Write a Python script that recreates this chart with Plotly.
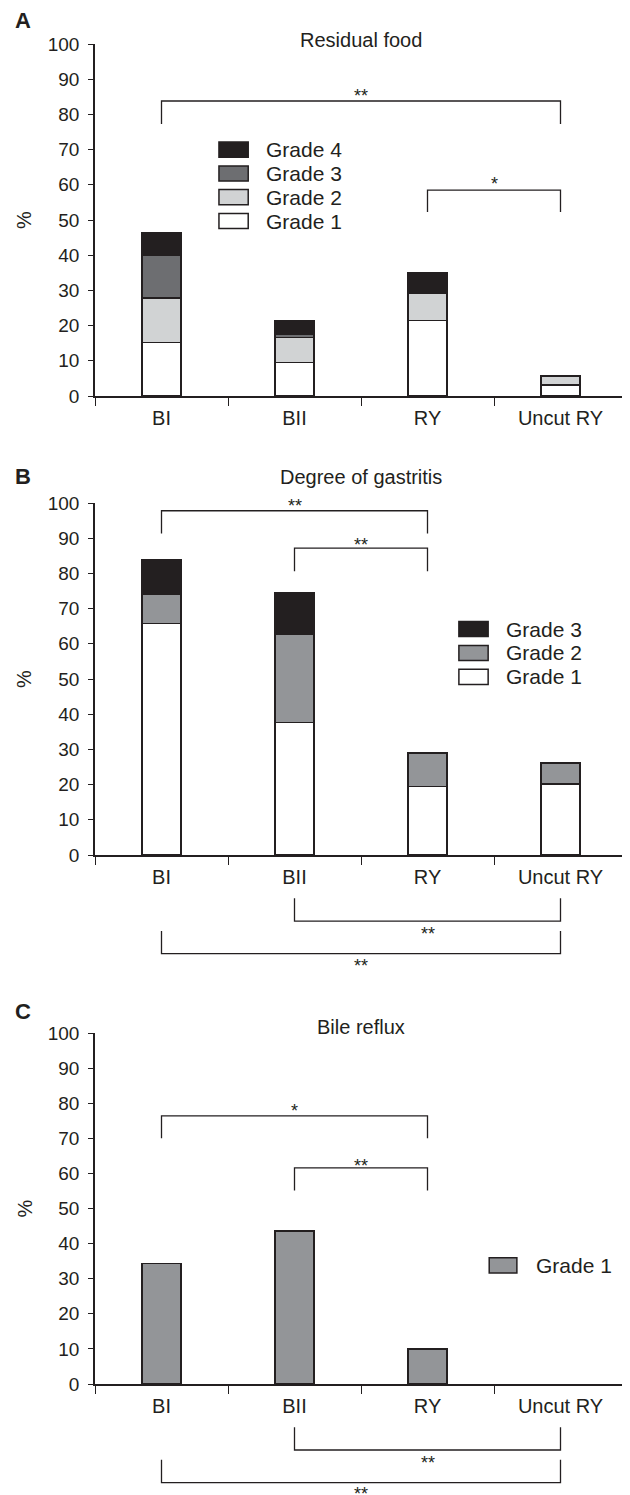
import plotly.graph_objects as go
from plotly.subplots import make_subplots

categories = ["BI", "BII", "RY", "Uncut RY"]

# Panel A: Residual food (% per grade)
food_grade1 = [15.2, 9.5, 21.4, 3.1]
food_grade2 = [12.6, 7.1, 7.8, 2.6]
food_grade3 = [12.1, 0.9, None, None]
food_grade4 = [6.5, 4.0, 5.7, None]

# Panel B: Degree of gastritis
gast_grade1 = [65.7, 37.7, 19.5, 20.2]
gast_grade2 = [8.5, 25.1, 9.5, 6.0]
gast_grade3 = [9.8, 11.8, None, None]

# Panel C: Bile reflux
bile_grade1 = [34.4, 43.6, 10.0, None]

y_ticks = list(range(0, 101, 10))

panel_titles = ["Residual food", "Degree of gastritis", "Bile reflux"]
panel_letters = ["A", "B", "C"]

# significance brackets: (left cat index, right cat index, bar level, tip level, label, label level)
brackets_A = [(0, 3, 83.8, 77.3, "**", 86.4), (2, 3, 58.5, 52.3, "*", 61.4)]
brackets_B = [(0, 2, 97.8, 91.3, "**", 100.2), (1, 2, 87.2, 80.6, "**", 89.3),
              (1, 3, -18.8, -12.3, "**", -21.3), (0, 3, -28.0, -21.6, "**", -30.5)]
brackets_C = [(0, 2, 76.4, 70.0, "*", 79.0), (1, 2, 61.6, 55.1, "**", 63.3),
              (1, 3, -18.8, -12.3, "**", -21.3), (0, 3, -28.1, -21.6, "**", -30.2)]

INK = "#231f20"
FONT = "Liberation Sans, Arial, sans-serif"

# the page body has an 8px margin; the figure is drawn from (8, 8)
OFF = 8
W, H = 630 - OFF, 1495 - OFF
ML = 95 - OFF
MR = W - (627 - OFF)
# plot area pixel extents (top, bottom) for each panel, page coordinates
panel_px = [(44, 396), (503, 855), (1033, 1384)]
title_px = [40, 477, 1027]
letter_px = [21, 477, 1011]

fig = make_subplots(rows=3, cols=1)

series_A = [("Grade 1", food_grade1, "#ffffff"), ("Grade 2", food_grade2, "#d1d3d4"),
            ("Grade 3", food_grade3, "#6d6e71"), ("Grade 4", food_grade4, INK)]
series_B = [("Grade 1", gast_grade1, "#ffffff"), ("Grade 2", gast_grade2, "#939598"),
            ("Grade 3", gast_grade3, INK)]
series_C = [("Grade 1", bile_grade1, "#939598")]

panels = [series_A, series_B, series_C]
brackets = [brackets_A, brackets_B, brackets_C]

# custom legend placement (domain fractions): box x0, x1, text x, row centers
legend_pos = [
    (0.233, 0.288, 0.318, [0.497, 0.565, 0.632, 0.700]),
    (0.684, 0.739, 0.769, [0.506, 0.574, 0.642]),
    (0.741, 0.793, 0.825, [0.338]),
]
BOX_H = 0.0215

shapes = []
annotations = []
PW = W - ML - MR

for p, series in enumerate(panels):
    row = p + 1
    for name, vals, col in series:
        fig.add_trace(go.Bar(x=categories, y=vals, name=name, width=0.29,
                             marker=dict(color=col, line=dict(color=INK, width=1.5)),
                             showlegend=False), row=row, col=1)
    xa = "x" if p == 0 else f"x{p+1}"
    ya = "y" if p == 0 else f"y{p+1}"
    # legend
    bx0, bx1, tx, rows_y = legend_pos[p]
    for (name, vals, col), yc in zip(series, rows_y):
        shapes.append(dict(type="rect", xref=f"{xa} domain", yref=f"{ya} domain",
                           x0=bx0, x1=bx1, y0=yc - BOX_H, y1=yc + BOX_H,
                           fillcolor=col, line=dict(color=INK, width=1.5)))
        annotations.append(dict(xref=f"{xa} domain", yref=f"{ya} domain", x=tx, y=yc,
                                text=name, showarrow=False, xanchor="left", yanchor="middle",
                                font=dict(size=21, color=INK, family=FONT)))
    # brackets
    for li, ri, lvl, tip, lab, laby in brackets[p]:
        xl = (li + 0.5) / len(categories)
        xr = (ri + 0.5) / len(categories)
        path = (f"M{xl},{tip/100} L{xl},{lvl/100} L{xr},{lvl/100} L{xr},{tip/100}")
        shapes.append(dict(type="path", xref=f"{xa} domain", yref=f"{ya} domain",
                           path=path, line=dict(color=INK, width=1.3)))
        annotations.append(dict(xref=f"{xa} domain", yref=f"{ya} domain",
                                x=(xl + xr) / 2, y=laby / 100, text=lab, showarrow=False,
                                xanchor="center", yanchor="middle", yshift=-4,
                                font=dict(size=18, color=INK, family=FONT)))
    # title
    annotations.append(dict(xref=f"{xa} domain", yref="paper", x=0.5,
                            y=1 - (title_px[p] - OFF) / H, text=panel_titles[p],
                            showarrow=False, xanchor="center", yanchor="middle",
                            font=dict(size=20, color=INK, family=FONT)))
    # panel letter
    annotations.append(dict(xref="paper", yref="paper", x=(23 - OFF - ML) / PW,
                            y=1 - (letter_px[p] - OFF) / H, text=f"<b>{panel_letters[p]}</b>",
                            showarrow=False, xanchor="center", yanchor="middle",
                            font=dict(size=22, color=INK, family=FONT)))
    # y title
    annotations.append(dict(xref="paper", yref=f"{ya} domain", x=(24 - OFF - ML) / PW,
                            y=0.5, text="%", textangle=-90, showarrow=False,
                            xanchor="center", yanchor="middle",
                            font=dict(size=20, color=INK, family=FONT)))

    top, bot = panel_px[p]
    fig.update_yaxes(domain=[1 - (bot - OFF) / H, 1 - (top - OFF) / H], range=[0, 100],
                     tickvals=y_ticks, ticks="outside", ticklen=5, tickwidth=1.3,
                     tickcolor=INK, showline=True, linecolor=INK, linewidth=1.5,
                     showgrid=False, zeroline=False, automargin=False,
                     ticklabelstandoff=5,
                     tickfont=dict(size=19, color=INK, family=FONT),
                     row=row, col=1)
    fig.update_xaxes(range=[-0.5, 3.5], tickson="boundaries", ticks="outside", ticklen=8,
                     tickwidth=1.3, tickcolor=INK, showline=True, linecolor=INK,
                     linewidth=1.5, showgrid=False, automargin=False,
                     ticklabelstandoff=3,
                     tickfont=dict(size=20, color=INK, family=FONT), row=row, col=1)

fig.update_layout(width=W, height=H, barmode="stack", plot_bgcolor="white",
                  paper_bgcolor="white",
                  margin=dict(l=ML, r=MR, t=0, b=0, autoexpand=False),
                  shapes=shapes, annotations=annotations, showlegend=False,
                  font=dict(family=FONT, color=INK))

fig.write_html("out.html")
